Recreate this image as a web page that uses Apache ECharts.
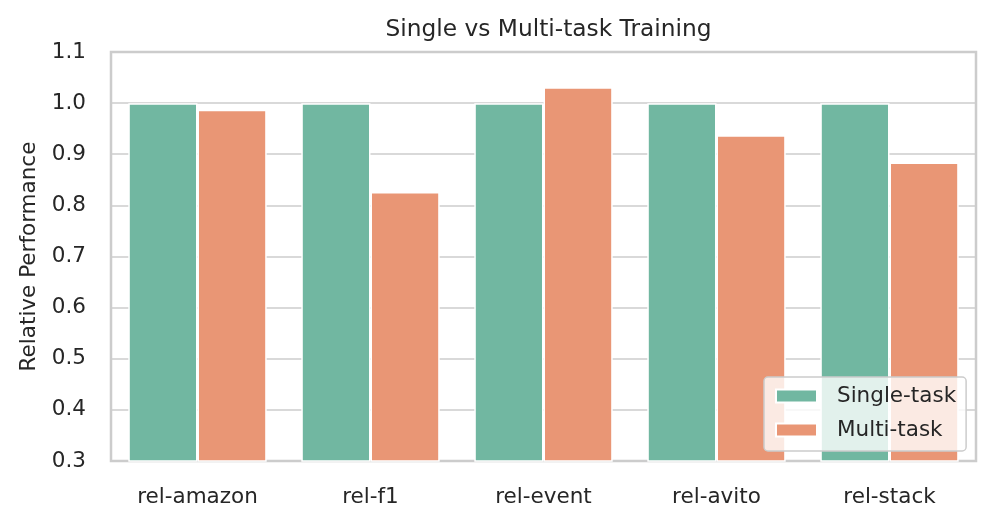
<!DOCTYPE html>
<html>
<head>
<meta charset="utf-8">
<script src="https://cdn.jsdelivr.net/npm/echarts@6/dist/echarts.min.js"></script>
<style>
html,body{margin:0;padding:0;background:#fff;}
#c{width:996px;height:528px;}
</style>
</head>
<body>
<div id="c"></div>
<script>
var categories = ['rel-amazon', 'rel-f1', 'rel-event', 'rel-avito', 'rel-stack'];
var singleTask = [1.0, 1.0, 1.0, 1.0, 1.0];
var multiTask = [0.987, 0.826, 1.031, 0.937, 0.884];
var seriesNames = ['Single-task', 'Multi-task'];
var titleText = 'Single vs Multi-task Training';
var yAxisName = 'Relative Performance';

var FONT = 'DejaVu Sans';
var TXT = '#262626';
var chart = echarts.init(document.getElementById('c'), null, {renderer: 'canvas'});
chart.setOption({
  animation: false,
  backgroundColor: '#ffffff',
  title: {
    text: titleText,
    left: 543.5,
    textAlign: 'center',
    top: 13,
    textStyle: {fontFamily: FONT, fontSize: 23.3, fontWeight: 'normal', color: TXT}
  },
  grid: {
    left: 111, right: 20, top: 52, bottom: 67,
    show: true, borderColor: '#cccccc', borderWidth: 2.5, backgroundColor: 'transparent'
  },
  legend: {
    orient: 'vertical',
    left: 764, top: 377,
    padding: [8, 10, 10, 11],
    itemGap: 12,
    itemWidth: 41, itemHeight: 13,
    icon: 'rect',
    backgroundColor: 'rgba(255,255,255,0.8)',
    borderColor: '#cccccc', borderWidth: 1.5, borderRadius: 4,
    textStyle: {fontFamily: FONT, fontSize: 21.5, color: TXT, padding: [0, 0, 0, 15]},
    data: seriesNames
  },
  xAxis: {
    type: 'category',
    data: categories,
    axisTick: {show: false},
    axisLine: {show: false},
    axisLabel: {fontFamily: FONT, fontSize: 21.5, color: TXT, margin: 25}
  },
  yAxis: {
    type: 'value',
    min: 0.3, max: 1.1, interval: 0.1,
    name: yAxisName,
    nameLocation: 'middle',
    nameGap: 71,
    nameTextStyle: {fontFamily: FONT, fontSize: 21.5, color: TXT},
    axisLine: {show: false},
    axisTick: {show: false},
    splitLine: {show: true, lineStyle: {color: '#cccccc', width: 1.7}},
    axisLabel: {fontFamily: FONT, fontSize: 21.5, color: TXT, margin: 25,
      formatter: function (v) { return v.toFixed(1); }}
  },
  series: [
    {
      name: seriesNames[0], type: 'bar', data: singleTask,
      barGap: '0%', barCategoryGap: '20%',
      itemStyle: {color: '#71b7a1', borderColor: '#ffffff', borderWidth: 1.5}
    },
    {
      name: seriesNames[1], type: 'bar', data: multiTask,
      barGap: '0%', barCategoryGap: '20%',
      itemStyle: {color: '#e99675', borderColor: '#ffffff', borderWidth: 1.5}
    }
  ]
});
</script>
</body>
</html>
